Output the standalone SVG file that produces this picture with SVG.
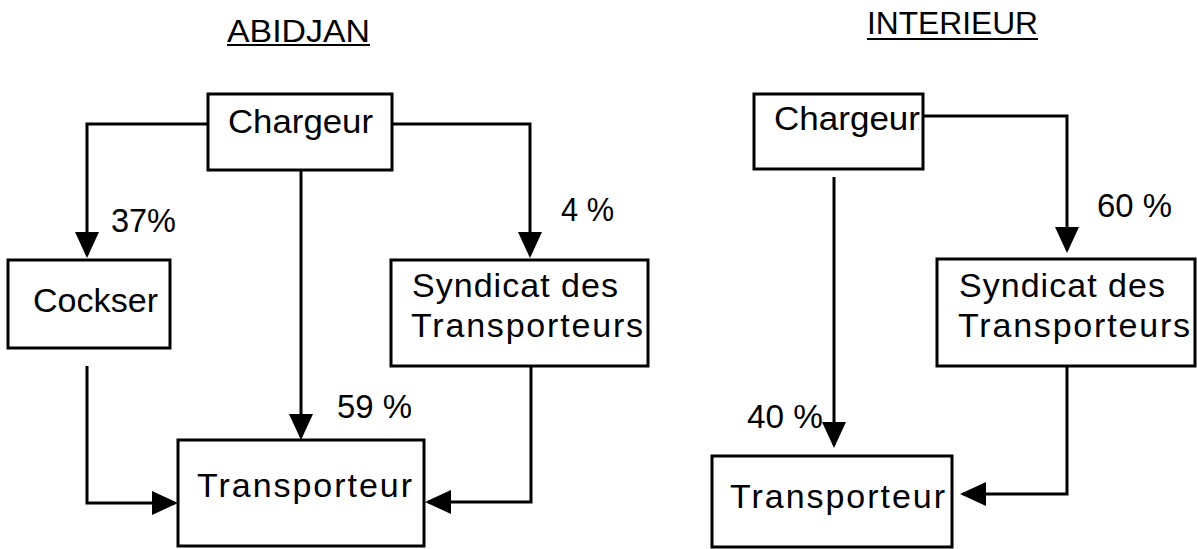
<svg xmlns="http://www.w3.org/2000/svg" width="1197" height="549" viewBox="0 0 1197 549">
  <style>
    .box { fill: #ffffff; stroke: #000000; stroke-width: 3; }
    .conn { fill: none; stroke: #000000; stroke-width: 3; }
    .t { font-family: "Liberation Sans", Arial, sans-serif; font-size: 34px; fill: #000000; }
    .h { font-family: "Liberation Sans", Arial, sans-serif; font-size: 31px; fill: #000000; }
    .ul { stroke: #000000; stroke-width: 2; }
  </style>
  <defs>
    <marker id="arrow" markerUnits="userSpaceOnUse" markerWidth="26" markerHeight="24" refX="23" refY="12" orient="auto">
      <path d="M0,0 L26,12 L0,24 Z" fill="#000000"/>
    </marker>
  </defs>
  <rect width="1197" height="549" fill="#ffffff"/>

  <g id="titles">
    <text class="h" x="227" y="42" textLength="143" lengthAdjust="spacingAndGlyphs">ABIDJAN</text>
    <line class="ul" x1="227" y1="45" x2="370" y2="45"/>
    <text class="h" x="867" y="34" textLength="171" lengthAdjust="spacingAndGlyphs">INTERIEUR</text>
    <line class="ul" x1="867" y1="39" x2="1038" y2="39"/>
  </g>

  <g id="connectors">
    <path class="conn" d="M208,124 H87 V255" marker-end="url(#arrow)"/>
    <path class="conn" d="M392,124 H530 V255" marker-end="url(#arrow)"/>
    <path class="conn" d="M301,170 V437" marker-end="url(#arrow)"/>
    <path class="conn" d="M87,366 V503 H175" marker-end="url(#arrow)"/>
    <path class="conn" d="M531,366 V502 H428" marker-end="url(#arrow)"/>
    <path class="conn" d="M923,116 H1067 V250" marker-end="url(#arrow)"/>
    <path class="conn" d="M834,177 V445" marker-end="url(#arrow)"/>
    <path class="conn" d="M1067,366 V494 H963" marker-end="url(#arrow)"/>
  </g>

  <g id="labels">
    <text class="t" x="111" y="232" textLength="65" lengthAdjust="spacingAndGlyphs">37%</text>
    <text class="t" x="561" y="221" textLength="53" lengthAdjust="spacingAndGlyphs">4 %</text>
    <text class="t" x="337" y="418" textLength="75" lengthAdjust="spacingAndGlyphs">59 %</text>
    <text class="t" x="1097" y="217" textLength="75" lengthAdjust="spacingAndGlyphs">60 %</text>
    <text class="t" x="747" y="428" textLength="76" lengthAdjust="spacingAndGlyphs">40 %</text>
  </g>

  <g id="abidjan-chargeur">
    <rect class="box" x="208" y="94" width="184" height="76"/>
    <text class="t" x="228" y="133" textLength="145" lengthAdjust="spacingAndGlyphs">Chargeur</text>
  </g>
  <g id="abidjan-cockser">
    <rect class="box" x="8" y="260" width="162" height="88"/>
    <text class="t" x="33" y="312" textLength="125" lengthAdjust="spacingAndGlyphs">Cockser</text>
  </g>
  <g id="abidjan-syndicat">
    <rect class="box" x="391" y="260" width="257" height="106"/>
    <text class="t" x="412" y="297" textLength="206" lengthAdjust="spacing">Syndicat des</text>
    <text class="t" x="411" y="337" textLength="232" lengthAdjust="spacing">Transporteurs</text>
  </g>
  <g id="abidjan-transporteur">
    <rect class="box" x="178" y="440" width="246" height="106"/>
    <text class="t" x="197" y="497" textLength="215" lengthAdjust="spacing">Transporteur</text>
  </g>

  <g id="interieur-chargeur">
    <rect class="box" x="754" y="94" width="169" height="75"/>
    <text class="t" x="774" y="130" textLength="146" lengthAdjust="spacingAndGlyphs">Chargeur</text>
  </g>
  <g id="interieur-syndicat">
    <rect class="box" x="937" y="259" width="258" height="107"/>
    <text class="t" x="959" y="297" textLength="206" lengthAdjust="spacing">Syndicat des</text>
    <text class="t" x="958" y="337" textLength="232" lengthAdjust="spacing">Transporteurs</text>
  </g>
  <g id="interieur-transporteur">
    <rect class="box" x="712" y="456" width="240" height="91"/>
    <text class="t" x="730" y="508" textLength="215" lengthAdjust="spacing">Transporteur</text>
  </g>
</svg>
